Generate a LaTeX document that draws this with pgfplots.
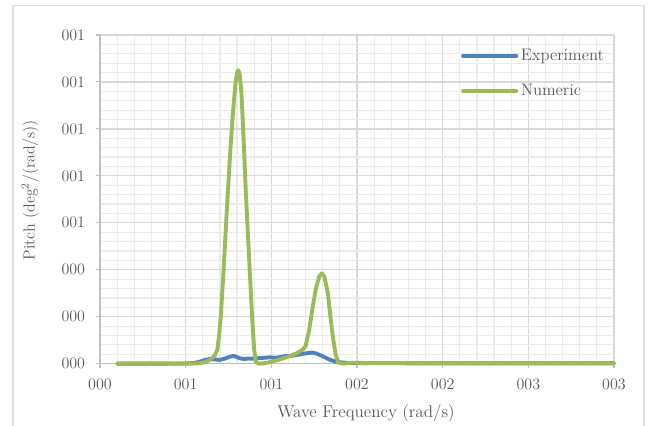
\documentclass[border=0pt]{standalone}
\usepackage{pgfplots}
\pgfplotsset{compat=1.18}

\definecolor{expblue}{HTML}{4F81BD}
\definecolor{numgreen}{HTML}{9BBB59}
\definecolor{txtgray}{HTML}{595959}
\definecolor{axgray}{HTML}{BFBFBF}
\definecolor{majgrid}{HTML}{D9D9D9}
\definecolor{mingrid}{HTML}{EBEBEB}
\newcommand{\chartfont}{\fontsize{12}{14}\selectfont}
\newcommand{\xlabfont}{\fontsize{12.8}{15}\selectfont}

\begin{document}
\chartfont
\begin{tikzpicture}
\useasboundingbox (-75pt,-46.7pt) rectangle (411pt,272.75pt);
% chart frame
\draw[black!12, line width=0.9pt] (-65.25pt,-50pt) -- (-65.25pt,268.5pt) -- (408pt,268.5pt) -- (408pt,-50pt);
\begin{axis}[
  at={(0pt,0pt)}, anchor=south west,
  scale only axis, width=385.5pt, height=246.5pt,
  xmin=0, xmax=3, ymin=0, ymax=1.4,
  axis lines*=left,
  axis line style={axgray, line width=1pt},
  xtick={0,0.5,...,3},
  xticklabels={000,001,001,002,002,003,003},
  ytick={0,0.2,...,1.4},
  yticklabels={000,000,000,001,001,001,001,001},
  minor x tick num=4, minor y tick num=4,
  tick align=outside,
  major tick length=3pt, minor tick length=0pt,
  tick style={axgray, line width=0.8pt},
  grid=both,
  major grid style={majgrid, line width=0.9pt},
  minor grid style={mingrid, line width=0.9pt},
  tick label style={font=\chartfont, text=txtgray},
  xticklabel style={yshift=-4pt},
  yticklabel style={xshift=-4pt},
  xlabel={Wave Frequency (rad/s)},
  ylabel={Pitch (deg\textsuperscript{2}/(rad/s))},
  label style={text=txtgray},
  xlabel style={font=\xlabfont, at={(axis description cs:0.5175,-0.150)}, anchor=center},
  ylabel style={font=\chartfont, at={(axis description cs:-0.136,0.528)}, anchor=center},
  clip=false,
  legend style={at={(rel axis cs:0.702,0.966)}, anchor=north west,
    draw=none, fill=none, inner sep=0pt, row sep=12pt,
    font=\fontsize{12.5}{14}\selectfont, text=txtgray,
    cells={anchor=west}},
  legend image code/.code={\draw[#1, line width=2.8pt, line cap=round] (0pt,0pt) -- (40pt,0pt);},
  every axis plot/.append style={line width=2.9pt, line cap=round, line join=round},
]
\addplot[expblue] coordinates {
(0.10,0.000) (0.30,0.000) (0.50,0.001) (0.55,0.003) (0.58,0.008) (0.61,0.015)
(0.64,0.020) (0.67,0.018) (0.70,0.016) (0.73,0.022) (0.76,0.030) (0.78,0.033)
(0.80,0.028) (0.82,0.022) (0.84,0.020) (0.87,0.022) (0.90,0.021) (0.93,0.024)
(0.96,0.025) (0.99,0.027) (1.02,0.025) (1.05,0.028) (1.08,0.032) (1.11,0.033)
(1.14,0.036) (1.17,0.040) (1.20,0.044) (1.235,0.047) (1.26,0.044) (1.29,0.035)
(1.32,0.024) (1.345,0.016) (1.37,0.010) (1.40,0.006) (1.45,0.003) (1.60,0.002)
(2.00,0.001) (3.00,0.001)
};
\addlegendentry{Experiment}
\addplot[numgreen] coordinates {
(0.10,0.000) (0.20,0.000) (0.30,0.000) (0.40,0.000) (0.50,0.000) (0.56,0.001)
(0.60,0.004) (0.64,0.015) (0.67,0.035) (0.685,0.060) (0.695,0.120) (0.705,0.200)
(0.72,0.380) (0.74,0.650) (0.76,0.900) (0.775,1.060) (0.79,1.190) (0.800,1.240)
(0.807,1.250) (0.815,1.235) (0.825,1.160) (0.838,0.960) (0.850,0.750) (0.860,0.600)
(0.875,0.380) (0.890,0.170) (0.900,0.060) (0.910,0.005) (0.93,0.000) (0.96,0.002)
(1.00,0.008) (1.05,0.018) (1.10,0.030) (1.15,0.045) (1.18,0.058) (1.20,0.075)
(1.22,0.140) (1.24,0.235) (1.26,0.320) (1.28,0.372) (1.295,0.385) (1.31,0.370)
(1.33,0.300) (1.345,0.200) (1.36,0.110) (1.375,0.040) (1.39,0.005) (1.42,0.000)
(1.47,0.004) (1.55,0.003) (2.00,0.003) (3.00,0.003)
};
\addlegendentry{Numeric}
\end{axis}
\end{tikzpicture}
\end{document}
